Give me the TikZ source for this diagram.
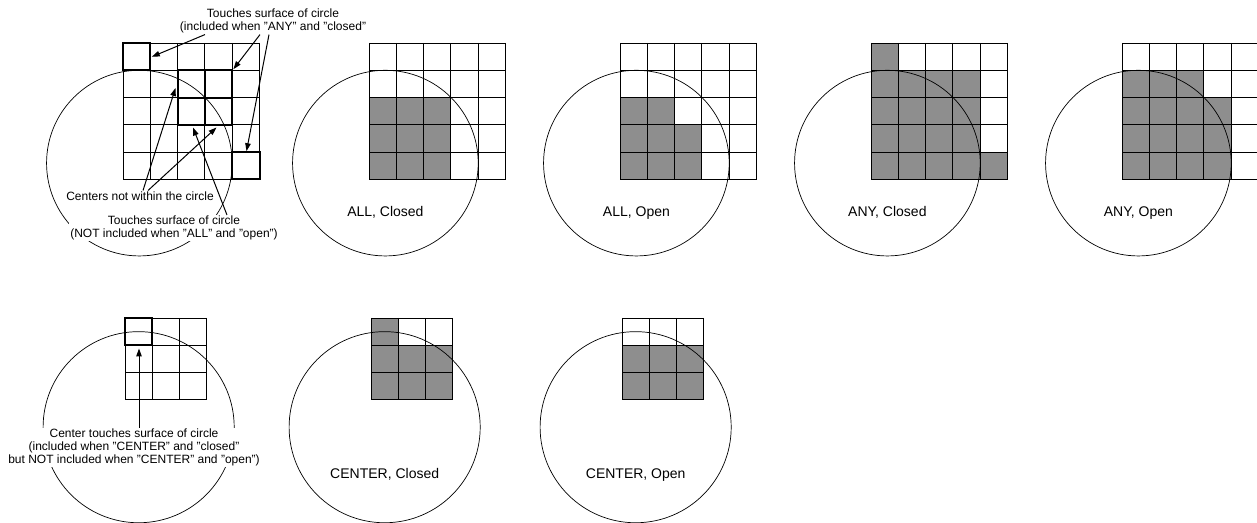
\documentclass[tikz,border=0pt]{standalone}
\usepackage{fontspec}
\setmainfont{Liberation Sans}
\usetikzlibrary{arrows.meta}
\definecolor{cellgray}{RGB}{142,142,142}
\def\cs{27.3}
\tikzset{
  gridline/.style={line width=0.9bp, black},
  ring/.style={line width=0.7bp, black},
  thickcell/.style={line width=2bp, black},
  arr/.style={line width=1bp, -{Triangle[length=8bp,width=5.5bp]}},
  note/.style={fill=white, align=center, inner sep=1bp, font=\fontsize{12bp}{13bp}\selectfont},
  caption/.style={font=\fontsize{14bp}{16bp}\selectfont, anchor=base, inner sep=0pt},
}
\newcommand\drawgrid[3]{%
  \foreach \k in {0,...,#3}{
    \draw[gridline] (#1+\k*\cs, #2) -- (#1+\k*\cs, #2+#3*\cs);
    \draw[gridline] (#1, #2+\k*\cs) -- (#1+#3*\cs, #2+\k*\cs);
  }}
\newcommand\shadecells[3]{%
  \foreach \c/\r in {#3}{
    \fill[cellgray] (#1+\c*\cs-\cs, #2+\r*\cs-\cs) rectangle (#1+\c*\cs, #2+\r*\cs);
  }}
\newcommand\thickcells[3]{%
  \foreach \c/\r in {#3}{
    \draw[thickcell] (#1+\c*\cs-\cs, #2+\r*\cs-\cs) rectangle (#1+\c*\cs, #2+\r*\cs);
  }}
\begin{document}
\begin{tikzpicture}[x=1bp,y=-1bp]
\useasboundingbox (0,0) rectangle (1257,523);
% ---------- fills ----------
\shadecells{369}{43}{1/3,2/3,3/3,1/4,2/4,3/4,1/5,2/5,3/5}
\shadecells{620}{43}{1/3,2/3,1/4,2/4,3/4,1/5,2/5,3/5}
\shadecells{871}{43}{1/1,1/2,2/2,3/2,4/2,1/3,2/3,3/3,4/3,1/4,2/4,3/4,4/4,1/5,2/5,3/5,4/5,5/5}
\shadecells{1122}{43}{1/2,2/2,3/2,1/3,2/3,3/3,4/3,1/4,2/4,3/4,4/4,1/5,2/5,3/5,4/5}
\shadecells{371}{318}{1/1,1/2,2/2,3/2,1/3,2/3,3/3}
\shadecells{622}{318}{1/2,2/2,3/2,1/3,2/3,3/3}
% ---------- grids ----------
\drawgrid{123}{43}{5}
\drawgrid{369}{43}{5}
\drawgrid{620}{43}{5}
\drawgrid{871}{43}{5}
\drawgrid{1122}{43}{5}
\drawgrid{125}{318}{3}
\drawgrid{371}{318}{3}
\drawgrid{622}{318}{3}
% ---------- thick cells ----------
\thickcells{123}{43}{1/1,3/2,4/2,3/3,4/3,5/5}
\thickcells{125}{318}{1/1}
% ---------- circles ----------
\foreach \L in {123,369,620,871,1122}{
  \draw[ring] (\L+16.38, 163.12) circle[radius=92.82bp];
}
\foreach \L in {125,371,622}{
  \draw[ring] (\L+13.65, 427.2) circle[radius=95.55bp];
}
% ---------- captions ----------
\node[caption] (capAC) at (385.4, 216.5) {ALL, Closed};
\node[caption] (capAO) at (636.4, 216.5) {ALL, Open};
\node[caption] (capYC) at (887.4, 216.5) {ANY, Closed};
\node[caption] (capYO) at (1138.4, 216.5) {ANY, Open};
\node[caption] (capCC) at (384.7, 478) {CENTER, Closed};
\node[caption] (capCO) at (635.7, 478) {CENTER, Open};
% ---------- notes ----------
\node[note, anchor=north] (topnote) at (273, 8)
  {Touches surface of circle\\(included when "ANY" and "closed"};
\node[note, anchor=north] (centersnote) at (140, 190.5)
  {Centers not within the circle};
\node[note, anchor=north] (touchnote) at (174, 215)
  {Touches surface of circle\\(NOT included when "ALL" and "open")};
\node[note, anchor=north] (centernote) at (134, 428)
  {Center touches surface of circle\\(included when "CENTER" and "closed"\\but NOT included when "CENTER" and "open")};
% ---------- arrow tips ----------
\coordinate (tipA) at (151.8, 56.8);
\coordinate (tipB) at (233.4, 69.2);
\coordinate (tipC) at (246.5, 151.2);
\coordinate (tipD) at (175.5, 88);
\coordinate (tipE) at (216.5, 127.5);
\coordinate (tipF) at (193, 127.5);
\coordinate (tipG) at (139, 348.5);
% ---------- arrows ----------
\draw[arr] ([xshift=-68bp]topnote.south) -- (tipA);
\draw[arr] ([xshift=-13bp]topnote.south) -- (tipB);
\draw[arr] ([xshift=-4bp]topnote.south) -- (tipC);
\draw[arr] ([xshift=3bp]centersnote.north) -- (tipD);
\draw[arr] ([xshift=8bp]centersnote.north) -- (tipE);
\draw[arr] ([xshift=53bp]touchnote.north) -- (tipF);
\draw[arr] (centernote.north -| tipG) -- (tipG);
\end{tikzpicture}
\end{document}
